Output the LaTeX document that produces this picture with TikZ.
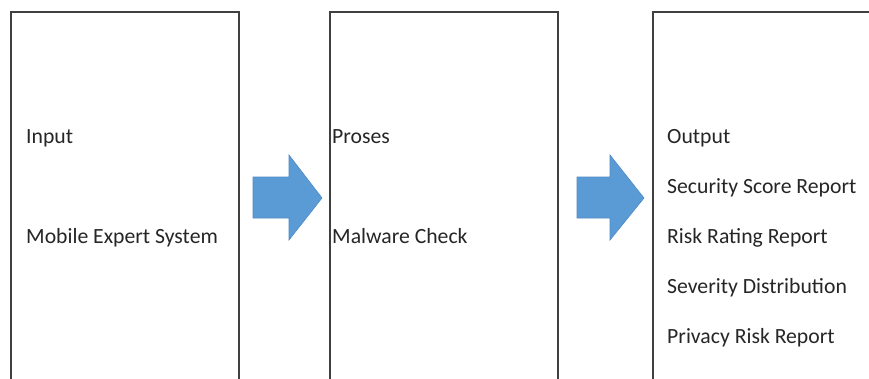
\documentclass[tikz,border=0pt]{standalone}
\usepackage{fontspec}
\setmainfont{Carlito}
\definecolor{arrowblue}{HTML}{5B9BD5}
\definecolor{arrowedge}{HTML}{4F8AC4}
\definecolor{boxline}{HTML}{404040}
\definecolor{txt}{HTML}{262626}
\tikzset{
    label/.style={anchor=base west, inner sep=0pt, text=txt, font=\fontsize{21.7}{25}\selectfont},
    panel/.style={draw=boxline, line width=1.3pt},
    bigarrow/.style={fill=arrowblue, draw=arrowedge, line width=0.6pt}
}

\begin{document}
\begin{tikzpicture}[x=1pt, y=-1pt]
        \useasboundingbox (0, 0) rectangle (869, 378);
        \clip (0, 0) rectangle (869, 378);
        \fill[white] (0, 0) rectangle (869, 378);
        \draw[panel] (11, 12) rectangle (239, 400);
        \draw[panel] (330, 12) rectangle (558, 400);
        \draw[panel] (653, 12) rectangle (900, 400);
        \draw[bigarrow] (253, 177) -- (289, 177) -- (289, 155) -- (322, 198) -- (289, 240) -- (289, 218) -- (253, 218) -- cycle;
        \draw[bigarrow] (577, 177) -- (610, 177) -- (610, 155) -- (644, 198) -- (610, 240) -- (610, 218) -- (577, 218) -- cycle;
        \node[label] (input) at (26, 143) {Input};
        \node[label] (mes) at (26, 243) {Mobile Expert System};
        \node[label] (proses) at (332, 143) {Proses};
        \node[label] (malware) at (332, 243) {Malware Check};
        \node[label] (output) at (667, 143) {Output};
        \node[label] (score) at (667, 193) {Security Score Report};
        \node[label] (rating) at (667, 243) {Risk Rating Report};
        \node[label] (severity) at (667, 293) {Severity Distribution};
        \node[label] (privacy) at (667, 343) {Privacy Risk Report};
    \end{tikzpicture}
\end{document}
